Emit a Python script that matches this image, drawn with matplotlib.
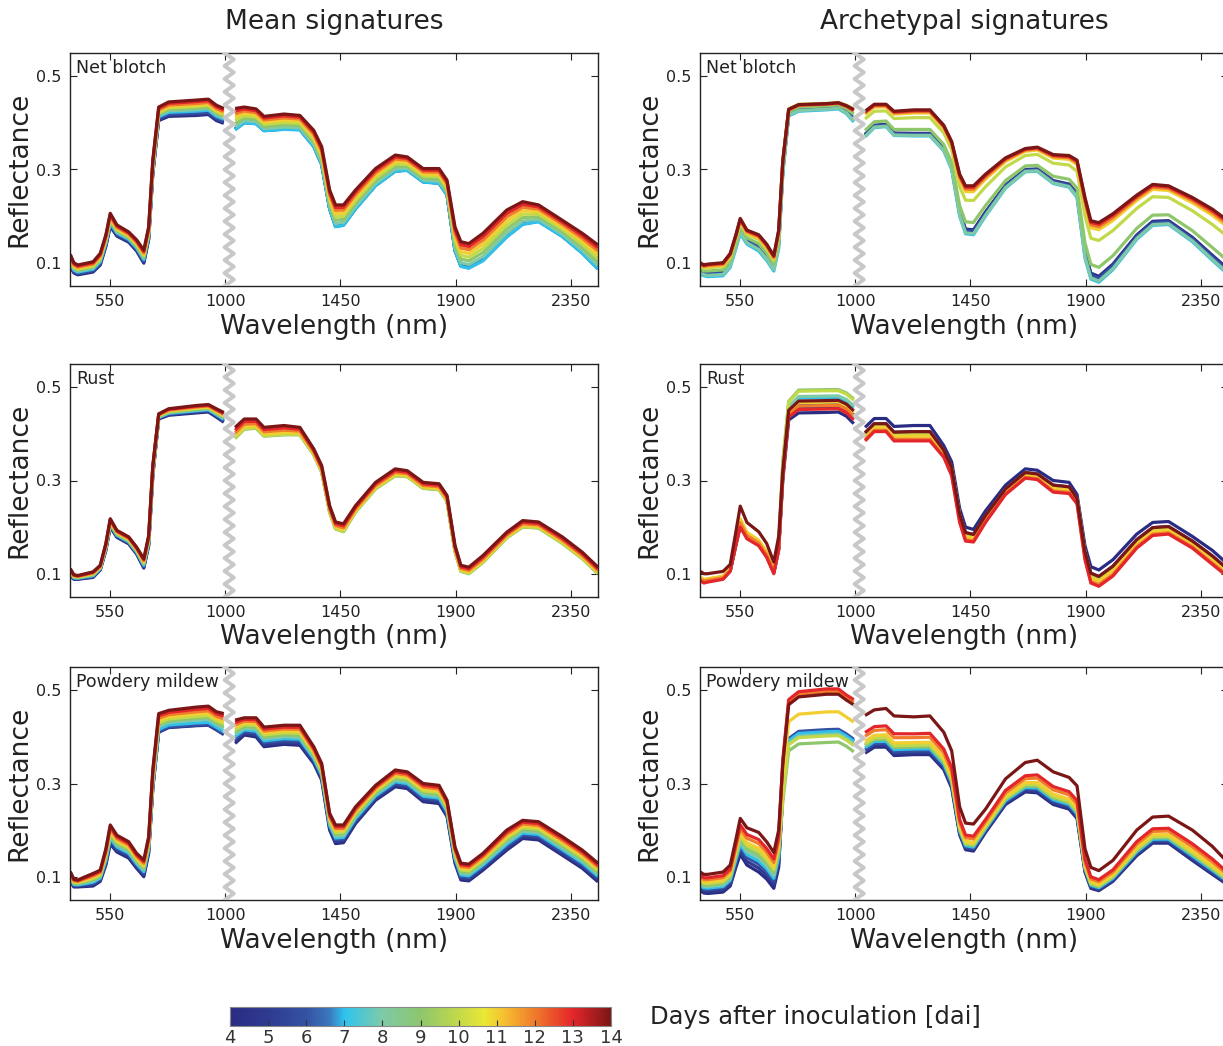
import numpy as np
import matplotlib
matplotlib.use("Agg")
import matplotlib.pyplot as plt
from matplotlib.colors import LinearSegmentedColormap, Normalize
from matplotlib.cm import ScalarMappable

# ---- data ----
days = [4, 5, 6, 7, 8, 9, 10, 11, 12, 13, 14]

wavelength = [396, 410, 425, 485, 513, 535, 552, 578, 624, 655, 683, 702, 718, 741, 780, 888, 935, 966, 995,
              1039, 1075, 1121, 1152, 1230, 1292, 1346, 1377, 1408, 1431, 1462, 1509, 1587, 1664, 1711, 1773,
              1835, 1866, 1897, 1920, 1951, 2006, 2099, 2161, 2223, 2316, 2394, 2455]

# Mean signatures: lowest and highest envelope of the daily curves
mean_net_lo = [0.092, 0.078, 0.074, 0.080, 0.095, 0.135, 0.178, 0.157, 0.144, 0.125, 0.099, 0.150, 0.290, 0.405, 0.414, 0.416, 0.418, 0.405, 0.399,
               0.385, 0.400, 0.398, 0.383, 0.386, 0.385, 0.349, 0.310, 0.215, 0.177, 0.180, 0.215, 0.265, 0.296, 0.298, 0.273,
               0.270, 0.245, 0.125, 0.092, 0.088, 0.104, 0.155, 0.182, 0.188, 0.156, 0.120, 0.086]
mean_net_hi = [0.118, 0.100, 0.095, 0.102, 0.120, 0.160, 0.206, 0.181, 0.166, 0.149, 0.127, 0.177, 0.320, 0.434, 0.445, 0.449, 0.451, 0.438, 0.431,
               0.431, 0.434, 0.430, 0.414, 0.419, 0.416, 0.384, 0.349, 0.256, 0.224, 0.224, 0.256, 0.302, 0.331, 0.327, 0.302,
               0.302, 0.277, 0.177, 0.145, 0.141, 0.163, 0.213, 0.231, 0.224, 0.191, 0.163, 0.138]

mean_rust_lo = [0.095, 0.088, 0.088, 0.092, 0.108, 0.150, 0.200, 0.178, 0.164, 0.142, 0.112, 0.160, 0.310, 0.432, 0.440, 0.445, 0.447, 0.436, 0.425,
                0.390, 0.410, 0.412, 0.395, 0.398, 0.398, 0.355, 0.318, 0.232, 0.196, 0.190, 0.232, 0.282, 0.310, 0.308, 0.283,
                0.280, 0.255, 0.148, 0.105, 0.100, 0.124, 0.177, 0.200, 0.198, 0.165, 0.132, 0.100]
mean_rust_hi = [0.111, 0.098, 0.096, 0.104, 0.118, 0.165, 0.218, 0.193, 0.179, 0.157, 0.132, 0.182, 0.332, 0.443, 0.454, 0.461, 0.463, 0.454, 0.446,
                0.414, 0.432, 0.432, 0.414, 0.418, 0.414, 0.368, 0.332, 0.246, 0.211, 0.207, 0.246, 0.296, 0.325, 0.321, 0.296,
                0.293, 0.268, 0.161, 0.118, 0.114, 0.139, 0.189, 0.214, 0.211, 0.179, 0.146, 0.114]

mean_pm_lo = [0.090, 0.078, 0.078, 0.080, 0.090, 0.125, 0.170, 0.153, 0.140, 0.118, 0.100, 0.150, 0.290, 0.410, 0.420, 0.424, 0.425, 0.415, 0.405,
              0.386, 0.404, 0.400, 0.379, 0.384, 0.382, 0.343, 0.307, 0.200, 0.171, 0.173, 0.214, 0.264, 0.293, 0.289, 0.261,
              0.257, 0.229, 0.129, 0.093, 0.091, 0.114, 0.157, 0.182, 0.179, 0.146, 0.118, 0.089]
mean_pm_hi = [0.111, 0.095, 0.093, 0.107, 0.114, 0.160, 0.211, 0.189, 0.175, 0.150, 0.136, 0.186, 0.329, 0.450, 0.457, 0.464, 0.466, 0.454, 0.450,
              0.436, 0.441, 0.441, 0.421, 0.425, 0.425, 0.379, 0.343, 0.236, 0.211, 0.211, 0.250, 0.296, 0.329, 0.325, 0.300,
              0.296, 0.264, 0.164, 0.129, 0.127, 0.150, 0.200, 0.221, 0.218, 0.186, 0.157, 0.129]

# Archetypal signatures
arch_net_lo = [0.075, 0.072, 0.070, 0.072, 0.090, 0.130, 0.162, 0.140, 0.125, 0.105, 0.082, 0.130, 0.290, 0.415, 0.425, 0.428, 0.430, 0.420, 0.402,
               0.370, 0.390, 0.392, 0.373, 0.372, 0.372, 0.340, 0.300, 0.200, 0.162, 0.160, 0.200, 0.260, 0.295, 0.296, 0.270,
               0.262, 0.240, 0.110, 0.065, 0.058, 0.085, 0.150, 0.180, 0.182, 0.145, 0.105, 0.075]
arch_net_hi = [0.100, 0.095, 0.097, 0.100, 0.120, 0.160, 0.195, 0.170, 0.160, 0.140, 0.115, 0.170, 0.320, 0.430, 0.440, 0.442, 0.444, 0.438, 0.430,
               0.425, 0.440, 0.440, 0.425, 0.428, 0.428, 0.395, 0.360, 0.290, 0.265, 0.265, 0.290, 0.325, 0.345, 0.348, 0.332,
               0.330, 0.320, 0.240, 0.190, 0.186, 0.205, 0.245, 0.268, 0.265, 0.240, 0.215, 0.190]

arch_rust_lo = [0.085, 0.080, 0.082, 0.088, 0.105, 0.160, 0.200, 0.175, 0.160, 0.135, 0.100, 0.150, 0.300, 0.430, 0.445, 0.446, 0.447, 0.438, 0.422,
                0.385, 0.405, 0.405, 0.385, 0.385, 0.385, 0.350, 0.310, 0.210, 0.170, 0.168, 0.210, 0.270, 0.305, 0.302, 0.275,
                0.272, 0.250, 0.130, 0.080, 0.073, 0.095, 0.155, 0.182, 0.185, 0.155, 0.120, 0.093]
arch_rust_hi = [0.105, 0.100, 0.100, 0.105, 0.120, 0.190, 0.245, 0.210, 0.190, 0.165, 0.125, 0.180, 0.340, 0.470, 0.494, 0.495, 0.495, 0.488, 0.475,
                0.414, 0.433, 0.433, 0.416, 0.418, 0.418, 0.375, 0.340, 0.240, 0.200, 0.195, 0.235, 0.290, 0.325, 0.322, 0.300,
                0.296, 0.270, 0.160, 0.115, 0.108, 0.130, 0.185, 0.210, 0.212, 0.180, 0.150, 0.120]

arch_pm_lo = [0.070, 0.065, 0.064, 0.067, 0.080, 0.120, 0.148, 0.125, 0.110, 0.095, 0.075, 0.120, 0.260, 0.370, 0.385, 0.388, 0.389, 0.380, 0.368,
              0.365, 0.378, 0.378, 0.360, 0.362, 0.362, 0.330, 0.290, 0.190, 0.158, 0.155, 0.195, 0.255, 0.282, 0.280, 0.255,
              0.245, 0.225, 0.110, 0.075, 0.070, 0.090, 0.145, 0.172, 0.172, 0.135, 0.105, 0.082]
arch_pm_hi = [0.110, 0.105, 0.105, 0.110, 0.125, 0.180, 0.225, 0.205, 0.195, 0.175, 0.152, 0.200, 0.350, 0.480, 0.497, 0.503, 0.503, 0.490, 0.480,
              0.446, 0.458, 0.461, 0.445, 0.443, 0.445, 0.410, 0.370, 0.250, 0.215, 0.213, 0.245, 0.310, 0.345, 0.350, 0.325,
              0.313, 0.295, 0.160, 0.120, 0.113, 0.135, 0.200, 0.228, 0.230, 0.200, 0.165, 0.130]

# position of each day's curve between the envelopes (0 = lowest, 1 = highest),
# for the visible (<710 nm), near infrared (<1000 nm) and short-wave infrared ranges
mean_net_pos = ([0, 0.08, 0.16, 0.28, 0.38, 0.48, 0.58, 0.68, 0.78, 0.9, 1.0],
                [0, 0.08, 0.16, 0.28, 0.38, 0.48, 0.58, 0.68, 0.78, 0.9, 1.0],
                [0.04, 0.03, 0.02, 0.0, 0.15, 0.3, 0.45, 0.6, 0.75, 0.88, 1.0])
mean_rust_pos = ([0, 0.1, 0.2, 0.3, 0.4, 0.5, 0.6, 0.7, 0.8, 0.9, 1.0],
                 [0, 0.1, 0.2, 0.3, 0.4, 0.5, 0.6, 0.7, 0.8, 0.9, 1.0],
                 [0.3, 0.25, 0.2, 0.1, 0.05, 0.0, 0.05, 0.25, 0.5, 0.75, 1.0])
mean_pm_pos = ([0, 0.1, 0.2, 0.3, 0.4, 0.5, 0.6, 0.7, 0.8, 0.9, 1.0],
               [0.02, 0.0, 0.05, 0.15, 0.3, 0.4, 0.5, 0.62, 0.75, 0.88, 1.0],
               [0, 0.1, 0.2, 0.3, 0.4, 0.5, 0.6, 0.7, 0.8, 0.9, 1.0])
arch_net_pos = ([0.35, 0.3, 0.25, 0.0, 0.1, 0.45, 0.7, 0.8, 0.88, 0.95, 1.0],
                [0.3, 0.25, 0.2, 0.0, 0.1, 0.6, 1.0, 0.9, 0.85, 0.9, 0.95],
                [0.1, 0.08, 0.06, 0.0, 0.02, 0.25, 0.7, 0.88, 0.93, 0.97, 1.0])
arch_rust_pos = ([0.1, 0.1, 0.12, 0.15, 0.2, 0.25, 0.35, 0.4, 0.2, 0.0, 1.0],
                 [0.0, 0.25, 0.35, 0.65, 0.72, 1.0, 0.95, 0.45, 0.3, 0.15, 0.52],
                 [1.0, 0.6, 0.5, 0.5, 0.55, 0.5, 0.45, 0.3, 0.1, 0.0, 0.6])
arch_pm_pos = ([0, 0.1, 0.2, 0.28, 0.36, 0.44, 0.52, 0.6, 0.72, 0.82, 1.0],
               [0.2, 0.22, 0.24, 0.2, 0.15, 0.0, 0.12, 0.57, 0.95, 1.0, 0.9],
               [0.0, 0.05, 0.1, 0.15, 0.22, 0.2, 0.25, 0.32, 0.45, 0.55, 1.0])

panels = [
    (0, 0, "Net blotch", mean_net_lo, mean_net_hi, mean_net_pos),
    (1, 0, "Rust", mean_rust_lo, mean_rust_hi, mean_rust_pos),
    (2, 0, "Powdery mildew", mean_pm_lo, mean_pm_hi, mean_pm_pos),
    (0, 1, "Net blotch", arch_net_lo, arch_net_hi, arch_net_pos),
    (1, 1, "Rust", arch_rust_lo, arch_rust_hi, arch_rust_pos),
    (2, 1, "Powdery mildew", arch_pm_lo, arch_pm_hi, arch_pm_pos),
]

# jet-like colour map as printed
cmap = LinearSegmentedColormap.from_list("print_jet", [
    (0.0, "#2a2c83"), (0.1, "#2e3b90"), (0.2, "#3452a3"), (0.26, "#3a78bd"),
    (0.3, "#2ec4ee"), (0.4, "#7ecaa8"), (0.5, "#8dc66c"), (0.6, "#c2d949"),
    (0.67, "#ece734"), (0.72, "#f5c030"), (0.8, "#f07b2b"), (0.9, "#e5262a"),
    (1.0, "#7b1616")])
norm = Normalize(vmin=4, vmax=14)

NIR_START = 710
BREAK = 1000

fig = plt.figure(figsize=(12.23, 10.46), dpi=100)
W, H = 1223, 1046

col_left = [70, 700]
row_top = [53, 364, 667]
ax_w, ax_h = 528, 233

wl = np.array(wavelength)
left_part = wl < BREAK

for row, col, name, lo, hi, pos in panels:
    ax = fig.add_axes([col_left[col] / W, 1 - (row_top[row] + ax_h) / H, ax_w / W, ax_h / H])
    lo = np.array(lo)
    hi = np.array(hi)
    for i, d in enumerate(days):
        f = np.where(wl < NIR_START, pos[0][i], np.where(wl < BREAK, pos[1][i], pos[2][i]))
        y = lo + f * (hi - lo)
        c = cmap(norm(d))
        ax.plot(wl[left_part], y[left_part], color=c, lw=2.3, solid_capstyle="butt")
        ax.plot(wl[~left_part], y[~left_part], color=c, lw=2.3, solid_capstyle="butt")

    # sensor break marker
    n_zig = 36
    zy = np.linspace(0.05, 0.55, n_zig + 1)
    zx = np.where(np.arange(n_zig + 1) % 2 == 0, 998, 1034)
    ax.plot(zx, zy, color="#c8c8c8", lw=2.8, zorder=5)

    ax.set_xlim(395, 2455)
    ax.set_ylim(0.05, 0.55)
    ax.set_xticks([550, 1000, 1450, 1900, 2350])
    ax.set_yticks([0.1, 0.3, 0.5])
    ax.tick_params(direction="in", top=True, right=True, length=5, width=0.8,
                   labelsize=11.5, colors="#222222", pad=6)
    for s in ax.spines.values():
        s.set_color("#222222")
        s.set_linewidth(1.0)
    ax.set_xlabel("Wavelength (nm)", fontsize=19, labelpad=3, color="#222222")
    ax.set_ylabel("Reflectance", fontsize=19, labelpad=3, color="#222222")
    ax.text(0.011, 0.975, name, transform=ax.transAxes, fontsize=12.5,
            va="top", ha="left", color="#222222", zorder=6)

fig.text((70 + ax_w / 2) / W, 1 - 22 / H, "Mean signatures", fontsize=19,
         ha="center", va="center", color="#222222")
fig.text((700 + ax_w / 2) / W, 1 - 22 / H, "Archetypal signatures", fontsize=19,
         ha="center", va="center", color="#222222")

# colour bar
cax = fig.add_axes([230 / W, 1 - 1026 / H, 381 / W, 19 / H])
cb = fig.colorbar(ScalarMappable(norm=norm, cmap=cmap), cax=cax, orientation="horizontal")
cb.set_ticks(days)
cb.ax.tick_params(direction="in", length=4, labelsize=13, colors="#333333", pad=2)
cb.outline.set_edgecolor("#888888")
fig.text(650 / W, 1 - 1017 / H, "Days after inoculation [dai]", fontsize=17.5,
         ha="left", va="center", color="#222222")

fig.savefig("out.png", dpi=100)
